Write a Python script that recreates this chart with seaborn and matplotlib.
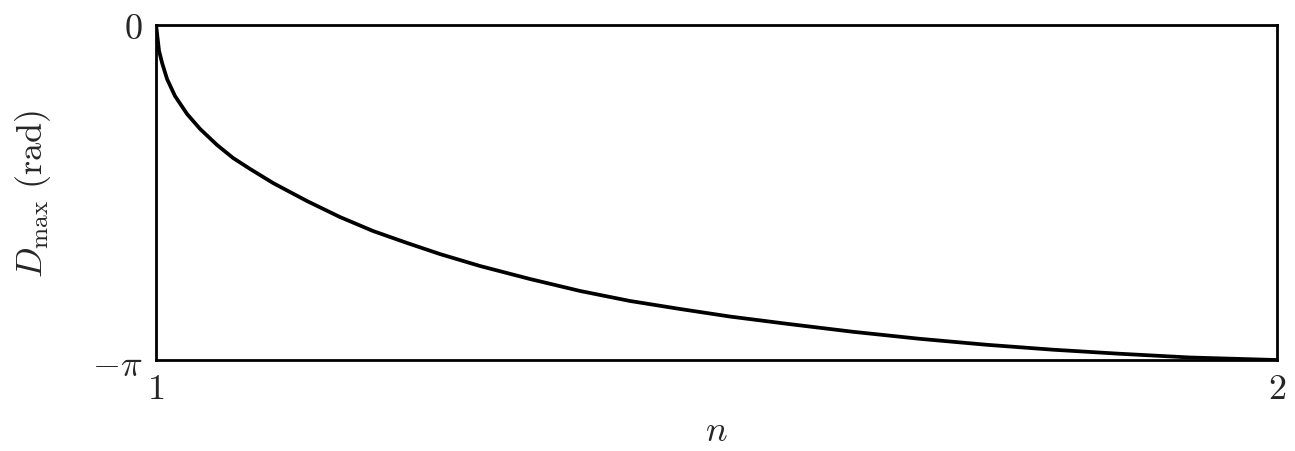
import numpy as np
import pandas as pd
import matplotlib
matplotlib.use("Agg")
import matplotlib.pyplot as plt
import seaborn as sns

# Data
n_values = [1.000, 1.0027, 1.0054, 1.0098, 1.0169, 1.0277, 1.0393, 1.0544,
            1.0687, 1.0839, 1.1044, 1.1347, 1.1641, 1.1936, 1.2239, 1.2533,
            1.2890, 1.3336, 1.3782, 1.4228, 1.4674, 1.5120, 1.5629, 1.6218,
            1.6815, 1.7413, 1.8002, 1.8599, 1.9224, 2.000]
d_max = [0.0, -0.244, -0.356, -0.506, -0.666, -0.835, -0.975, -1.125,
         -1.247, -1.350, -1.482, -1.651, -1.801, -1.932, -2.044, -2.148,
         -2.260, -2.382, -2.494, -2.588, -2.663, -2.734, -2.802, -2.877,
         -2.943, -2.999, -3.045, -3.083, -3.118, -np.pi]
x_ticks = [1, 2]
x_tick_labels = [r"$1$", r"$2$"]
y_ticks = [-np.pi, 0]
y_tick_labels = [r"$-\pi$", r"$0$"]

sns.set_style("white")
plt.rcParams["mathtext.fontset"] = "cm"
plt.rcParams["font.family"] = ["DejaVu Serif"]

df = pd.DataFrame({"n": n_values, "D": d_max})

fig = plt.figure(figsize=(12.95, 4.52), dpi=100)
ax = fig.add_axes([0.1205, 0.2013, 0.8656, 0.7412])
sns.lineplot(data=df, x="n", y="D", ax=ax, color="black", linewidth=2.7,
             sort=False, estimator=None)

ax.set_xlim(1, 2)
ax.set_ylim(-np.pi, 0)
ax.set_xticks(x_ticks)
ax.set_xticklabels(x_tick_labels, fontsize=26)
ax.set_yticks(y_ticks)
ax.set_yticklabels(y_tick_labels, fontsize=26)
ax.tick_params(axis="both", length=0)
ax.tick_params(axis="x", pad=8)
ax.tick_params(axis="y", pad=10)

ax.set_xlabel(r"$n$", fontsize=26, labelpad=6)
ax.set_ylabel(r"$D_{\max}\ \mathrm{(rad)}$", fontsize=26, labelpad=28)

for s in ax.spines.values():
    s.set_visible(True)
    s.set_color("black")
    s.set_linewidth(2.0)

fig.savefig("out.png", dpi=100, facecolor="white")
